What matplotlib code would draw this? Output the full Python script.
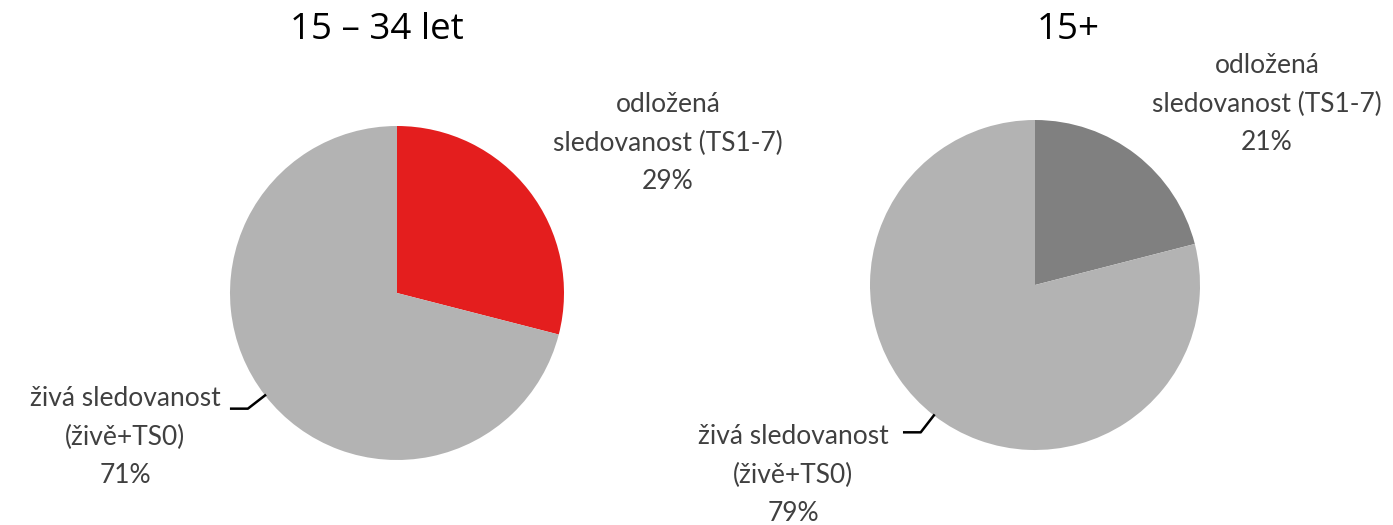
import numpy as np
import matplotlib.pyplot as plt

# data
titles = ["15 – 34 let", "15+"]
labels = ["odložená\nsledovanost (TS1-7)", "živá sledovanost\n(živě+TS0)"]
values_1534 = [29, 71]
values_15plus = [21, 79]
colors_1534 = ["#E41E1E", "#B3B3B3"]
colors_15plus = ["#808080", "#B3B3B3"]

W, H = 1393, 525
fig = plt.figure(figsize=(W / 100, H / 100), dpi=100)

def px(x, y):
    return x / W, 1 - y / H

def pie_axes(cx, cy, r):
    ax = fig.add_axes([(cx - r) / W, (H - cy - r) / H, 2 * r / W, 2 * r / H])
    ax.set_xlim(-1, 1)
    ax.set_ylim(-1, 1)
    ax.axis("off")
    return ax

txt_kw = dict(family="Lato", fontsize=19, color="#404040", ha="center", va="center",
              linespacing=1.68)

panels = [
    # center x, center y, radius, values, colors, title pos, top label pos, bottom label pos
    (397, 293, 167, values_1534, colors_1534, (377, 30), (668, 143), (125, 437)),
    (1035, 285, 165, values_15plus, colors_15plus, (1068, 30), (1267, 104), (793, 475)),
]

for i, (cx, cy, r, vals, cols, tpos, lpos1, lpos2) in enumerate(panels):
    ax = pie_axes(cx, cy, r)
    wedges, _ = ax.pie(vals, colors=cols, startangle=90, counterclock=False, radius=1,
                       wedgeprops=dict(linewidth=0))
    ax.set_xlim(-1, 1)
    ax.set_ylim(-1, 1)
    fig.text(*px(*tpos), titles[i], family="Open Sans", fontsize=26.5, ha="center", va="center")
    fig.text(*px(*lpos1), labels[0] + "\n%d%%" % vals[0], **txt_kw)
    fig.text(*px(*lpos2), labels[1] + "\n%d%%" % vals[1], **txt_kw)
    # leader line from middle of the big wedge
    w = wedges[1]
    a = np.deg2rad((w.theta1 + w.theta2) / 2)
    p0 = np.array([np.cos(a), np.sin(a)])
    p1 = p0 + 0.13 * p0
    p2 = p1 + np.array([-0.1, 0])
    ax.plot([p0[0], p1[0], p2[0]], [p0[1], p1[1], p2[1]], color="black", lw=1.8,
            clip_on=False)

fig.savefig("out.png", dpi=100)
